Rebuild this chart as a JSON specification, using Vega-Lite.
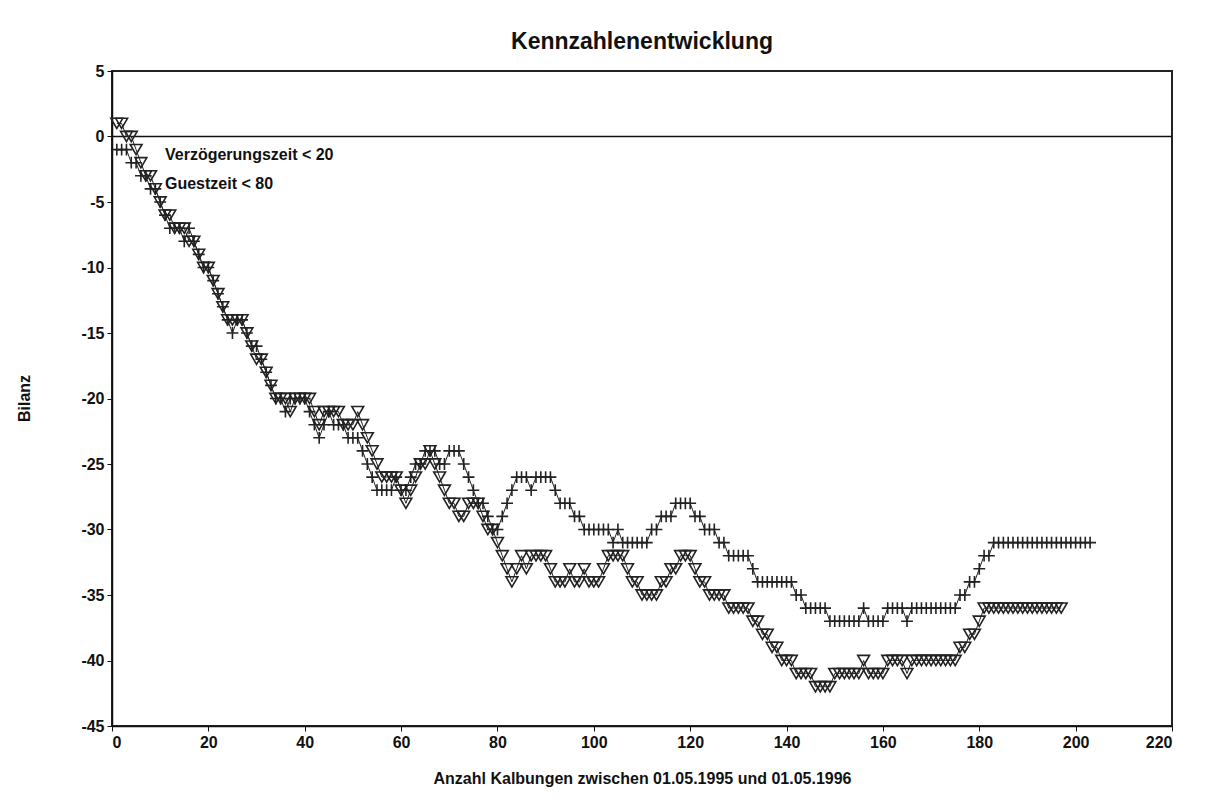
{
  "$schema": "https://vega.github.io/schema/vega-lite/v6.json",
  "width": 1060,
  "height": 655,
  "autosize": {"type": "none"},
  "padding": {"left": 112, "top": 71, "right": 44, "bottom": 80},
  "background": "white",
  "config": {
    "font": "Liberation Sans",
    "view": {"stroke": "#222", "strokeWidth": 2},
    "axis": {"grid": false, "domainColor": "#111", "tickColor": "#111", "labelColor": "#111", "titleColor": "#111", "labelFont": "Liberation Sans", "titleFont": "Liberation Sans", "labelFontWeight": "bold", "titleFontWeight": "bold", "labelFontSize": 16, "titleFontSize": 16, "tickSize": 5, "domainWidth": 1.5, "labelExpr": "replace(datum.label, '\u2212', '-')"}
  },
  "title": {"text": "Kennzahlenentwicklung", "fontSize": 23, "fontWeight": "bold", "font": "Liberation Sans", "color": "#111", "anchor": "middle", "offset": 9},
  "layer": [
    {
      "data": {"values": [{"z": 0}]},
      "mark": {"type": "rule", "color": "#111", "strokeWidth": 1.5},
      "encoding": {"y": {"field": "z", "type": "quantitative", "scale": {"domain": [-45, 5], "nice": false}, "axis": {"values": [-45, -40, -35, -30, -25, -20, -15, -10, -5, 0, 5], "title": "Bilanz", "titleX": -88, "titleY": 327, "titleAlign": "center", "titleBaseline": "middle", "labelPadding": 3}}}
    },
    {
      "data": {"name": "series", "values": [
{"s":"V","x":1,"y":-1},{"s":"V","x":2,"y":-1},{"s":"V","x":3,"y":-1},{"s":"V","x":4,"y":-2},{"s":"V","x":5,"y":-2},{"s":"V","x":6,"y":-3},{"s":"V","x":7,"y":-3},{"s":"V","x":8,"y":-4},{"s":"V","x":9,"y":-4},{"s":"V","x":10,"y":-5},
{"s":"V","x":11,"y":-6},{"s":"V","x":12,"y":-7},{"s":"V","x":13,"y":-7},{"s":"V","x":14,"y":-7},{"s":"V","x":15,"y":-8},{"s":"V","x":16,"y":-7},{"s":"V","x":17,"y":-8},{"s":"V","x":18,"y":-9},{"s":"V","x":19,"y":-10},{"s":"V","x":20,"y":-10},
{"s":"V","x":21,"y":-11},{"s":"V","x":22,"y":-12},{"s":"V","x":23,"y":-13},{"s":"V","x":24,"y":-14},{"s":"V","x":25,"y":-15},{"s":"V","x":26,"y":-14},{"s":"V","x":27,"y":-14},{"s":"V","x":28,"y":-15},{"s":"V","x":29,"y":-16},{"s":"V","x":30,"y":-16},
{"s":"V","x":31,"y":-17},{"s":"V","x":32,"y":-18},{"s":"V","x":33,"y":-19},{"s":"V","x":34,"y":-20},{"s":"V","x":35,"y":-20},{"s":"V","x":36,"y":-21},{"s":"V","x":37,"y":-20},{"s":"V","x":38,"y":-20},{"s":"V","x":39,"y":-20},{"s":"V","x":40,"y":-20},
{"s":"V","x":41,"y":-21},{"s":"V","x":42,"y":-22},{"s":"V","x":43,"y":-23},{"s":"V","x":44,"y":-22},{"s":"V","x":45,"y":-21},{"s":"V","x":46,"y":-22},{"s":"V","x":47,"y":-22},{"s":"V","x":48,"y":-22},{"s":"V","x":49,"y":-23},{"s":"V","x":50,"y":-23},
{"s":"V","x":51,"y":-23},{"s":"V","x":52,"y":-24},{"s":"V","x":53,"y":-25},{"s":"V","x":54,"y":-26},{"s":"V","x":55,"y":-27},{"s":"V","x":56,"y":-27},{"s":"V","x":57,"y":-27},{"s":"V","x":58,"y":-27},{"s":"V","x":59,"y":-26},{"s":"V","x":60,"y":-27},
{"s":"V","x":61,"y":-27},{"s":"V","x":62,"y":-26},{"s":"V","x":63,"y":-25},{"s":"V","x":64,"y":-25},{"s":"V","x":65,"y":-24},{"s":"V","x":66,"y":-24},{"s":"V","x":67,"y":-24},{"s":"V","x":68,"y":-25},{"s":"V","x":69,"y":-25},{"s":"V","x":70,"y":-24},
{"s":"V","x":71,"y":-24},{"s":"V","x":72,"y":-24},{"s":"V","x":73,"y":-25},{"s":"V","x":74,"y":-26},{"s":"V","x":75,"y":-27},{"s":"V","x":76,"y":-28},{"s":"V","x":77,"y":-28},{"s":"V","x":78,"y":-29},{"s":"V","x":79,"y":-30},{"s":"V","x":80,"y":-30},
{"s":"V","x":81,"y":-29},{"s":"V","x":82,"y":-28},{"s":"V","x":83,"y":-27},{"s":"V","x":84,"y":-26},{"s":"V","x":85,"y":-26},{"s":"V","x":86,"y":-26},{"s":"V","x":87,"y":-27},{"s":"V","x":88,"y":-26},{"s":"V","x":89,"y":-26},{"s":"V","x":90,"y":-26},
{"s":"V","x":91,"y":-26},{"s":"V","x":92,"y":-27},{"s":"V","x":93,"y":-28},{"s":"V","x":94,"y":-28},{"s":"V","x":95,"y":-28},{"s":"V","x":96,"y":-29},{"s":"V","x":97,"y":-29},{"s":"V","x":98,"y":-30},{"s":"V","x":99,"y":-30},{"s":"V","x":100,"y":-30},
{"s":"V","x":101,"y":-30},{"s":"V","x":102,"y":-30},{"s":"V","x":103,"y":-30},{"s":"V","x":104,"y":-31},{"s":"V","x":105,"y":-30},{"s":"V","x":106,"y":-31},{"s":"V","x":107,"y":-31},{"s":"V","x":108,"y":-31},{"s":"V","x":109,"y":-31},{"s":"V","x":110,"y":-31},
{"s":"V","x":111,"y":-31},{"s":"V","x":112,"y":-30},{"s":"V","x":113,"y":-30},{"s":"V","x":114,"y":-29},{"s":"V","x":115,"y":-29},{"s":"V","x":116,"y":-29},{"s":"V","x":117,"y":-28},{"s":"V","x":118,"y":-28},{"s":"V","x":119,"y":-28},{"s":"V","x":120,"y":-28},
{"s":"V","x":121,"y":-29},{"s":"V","x":122,"y":-29},{"s":"V","x":123,"y":-30},{"s":"V","x":124,"y":-30},{"s":"V","x":125,"y":-30},{"s":"V","x":126,"y":-31},{"s":"V","x":127,"y":-31},{"s":"V","x":128,"y":-32},{"s":"V","x":129,"y":-32},{"s":"V","x":130,"y":-32},
{"s":"V","x":131,"y":-32},{"s":"V","x":132,"y":-32},{"s":"V","x":133,"y":-33},{"s":"V","x":134,"y":-34},{"s":"V","x":135,"y":-34},{"s":"V","x":136,"y":-34},{"s":"V","x":137,"y":-34},{"s":"V","x":138,"y":-34},{"s":"V","x":139,"y":-34},{"s":"V","x":140,"y":-34},
{"s":"V","x":141,"y":-34},{"s":"V","x":142,"y":-35},{"s":"V","x":143,"y":-35},{"s":"V","x":144,"y":-36},{"s":"V","x":145,"y":-36},{"s":"V","x":146,"y":-36},{"s":"V","x":147,"y":-36},{"s":"V","x":148,"y":-36},{"s":"V","x":149,"y":-37},{"s":"V","x":150,"y":-37},
{"s":"V","x":151,"y":-37},{"s":"V","x":152,"y":-37},{"s":"V","x":153,"y":-37},{"s":"V","x":154,"y":-37},{"s":"V","x":155,"y":-37},{"s":"V","x":156,"y":-36},{"s":"V","x":157,"y":-37},{"s":"V","x":158,"y":-37},{"s":"V","x":159,"y":-37},{"s":"V","x":160,"y":-37},
{"s":"V","x":161,"y":-36},{"s":"V","x":162,"y":-36},{"s":"V","x":163,"y":-36},{"s":"V","x":164,"y":-36},{"s":"V","x":165,"y":-37},{"s":"V","x":166,"y":-36},{"s":"V","x":167,"y":-36},{"s":"V","x":168,"y":-36},{"s":"V","x":169,"y":-36},{"s":"V","x":170,"y":-36},
{"s":"V","x":171,"y":-36},{"s":"V","x":172,"y":-36},{"s":"V","x":173,"y":-36},{"s":"V","x":174,"y":-36},{"s":"V","x":175,"y":-36},{"s":"V","x":176,"y":-35},{"s":"V","x":177,"y":-35},{"s":"V","x":178,"y":-34},{"s":"V","x":179,"y":-34},{"s":"V","x":180,"y":-33},
{"s":"V","x":181,"y":-32},{"s":"V","x":182,"y":-32},{"s":"V","x":183,"y":-31},{"s":"V","x":184,"y":-31},{"s":"V","x":185,"y":-31},{"s":"V","x":186,"y":-31},{"s":"V","x":187,"y":-31},{"s":"V","x":188,"y":-31},{"s":"V","x":189,"y":-31},{"s":"V","x":190,"y":-31},
{"s":"V","x":191,"y":-31},{"s":"V","x":192,"y":-31},{"s":"V","x":193,"y":-31},{"s":"V","x":194,"y":-31},{"s":"V","x":195,"y":-31},{"s":"V","x":196,"y":-31},{"s":"V","x":197,"y":-31},{"s":"V","x":198,"y":-31},{"s":"V","x":199,"y":-31},{"s":"V","x":200,"y":-31},
{"s":"V","x":201,"y":-31},{"s":"V","x":202,"y":-31},{"s":"V","x":203,"y":-31},
{"s":"G","x":1,"y":1},{"s":"G","x":2,"y":1},{"s":"G","x":3,"y":0},{"s":"G","x":4,"y":0},{"s":"G","x":5,"y":-1},{"s":"G","x":6,"y":-2},{"s":"G","x":7,"y":-3},{"s":"G","x":8,"y":-3},{"s":"G","x":9,"y":-4},{"s":"G","x":10,"y":-5},
{"s":"G","x":11,"y":-6},{"s":"G","x":12,"y":-6},{"s":"G","x":13,"y":-7},{"s":"G","x":14,"y":-7},{"s":"G","x":15,"y":-7},{"s":"G","x":16,"y":-8},{"s":"G","x":17,"y":-8},{"s":"G","x":18,"y":-9},{"s":"G","x":19,"y":-10},{"s":"G","x":20,"y":-10},
{"s":"G","x":21,"y":-11},{"s":"G","x":22,"y":-12},{"s":"G","x":23,"y":-13},{"s":"G","x":24,"y":-14},{"s":"G","x":25,"y":-14},{"s":"G","x":26,"y":-14},{"s":"G","x":27,"y":-14},{"s":"G","x":28,"y":-15},{"s":"G","x":29,"y":-16},{"s":"G","x":30,"y":-17},
{"s":"G","x":31,"y":-17},{"s":"G","x":32,"y":-18},{"s":"G","x":33,"y":-19},{"s":"G","x":34,"y":-20},{"s":"G","x":35,"y":-20},{"s":"G","x":36,"y":-20},{"s":"G","x":37,"y":-21},{"s":"G","x":38,"y":-20},{"s":"G","x":39,"y":-20},{"s":"G","x":40,"y":-20},
{"s":"G","x":41,"y":-20},{"s":"G","x":42,"y":-21},{"s":"G","x":43,"y":-22},{"s":"G","x":44,"y":-21},{"s":"G","x":45,"y":-21},{"s":"G","x":46,"y":-21},{"s":"G","x":47,"y":-21},{"s":"G","x":48,"y":-22},{"s":"G","x":49,"y":-22},{"s":"G","x":50,"y":-22},
{"s":"G","x":51,"y":-21},{"s":"G","x":52,"y":-22},{"s":"G","x":53,"y":-23},{"s":"G","x":54,"y":-24},{"s":"G","x":55,"y":-25},{"s":"G","x":56,"y":-26},{"s":"G","x":57,"y":-26},{"s":"G","x":58,"y":-26},{"s":"G","x":59,"y":-26},{"s":"G","x":60,"y":-27},
{"s":"G","x":61,"y":-28},{"s":"G","x":62,"y":-27},{"s":"G","x":63,"y":-26},{"s":"G","x":64,"y":-25},{"s":"G","x":65,"y":-25},{"s":"G","x":66,"y":-24},{"s":"G","x":67,"y":-25},{"s":"G","x":68,"y":-26},{"s":"G","x":69,"y":-27},{"s":"G","x":70,"y":-28},
{"s":"G","x":71,"y":-28},{"s":"G","x":72,"y":-29},{"s":"G","x":73,"y":-29},{"s":"G","x":74,"y":-28},{"s":"G","x":75,"y":-28},{"s":"G","x":76,"y":-28},{"s":"G","x":77,"y":-29},{"s":"G","x":78,"y":-30},{"s":"G","x":79,"y":-30},{"s":"G","x":80,"y":-31},
{"s":"G","x":81,"y":-32},{"s":"G","x":82,"y":-33},{"s":"G","x":83,"y":-34},{"s":"G","x":84,"y":-33},{"s":"G","x":85,"y":-32},{"s":"G","x":86,"y":-33},{"s":"G","x":87,"y":-32},{"s":"G","x":88,"y":-32},{"s":"G","x":89,"y":-32},{"s":"G","x":90,"y":-32},
{"s":"G","x":91,"y":-33},{"s":"G","x":92,"y":-34},{"s":"G","x":93,"y":-34},{"s":"G","x":94,"y":-34},{"s":"G","x":95,"y":-33},{"s":"G","x":96,"y":-34},{"s":"G","x":97,"y":-34},{"s":"G","x":98,"y":-33},{"s":"G","x":99,"y":-34},{"s":"G","x":100,"y":-34},
{"s":"G","x":101,"y":-34},{"s":"G","x":102,"y":-33},{"s":"G","x":103,"y":-32},{"s":"G","x":104,"y":-32},{"s":"G","x":105,"y":-32},{"s":"G","x":106,"y":-32},{"s":"G","x":107,"y":-33},{"s":"G","x":108,"y":-34},{"s":"G","x":109,"y":-34},{"s":"G","x":110,"y":-35},
{"s":"G","x":111,"y":-35},{"s":"G","x":112,"y":-35},{"s":"G","x":113,"y":-35},{"s":"G","x":114,"y":-34},{"s":"G","x":115,"y":-34},{"s":"G","x":116,"y":-33},{"s":"G","x":117,"y":-33},{"s":"G","x":118,"y":-32},{"s":"G","x":119,"y":-32},{"s":"G","x":120,"y":-32},
{"s":"G","x":121,"y":-33},{"s":"G","x":122,"y":-34},{"s":"G","x":123,"y":-34},{"s":"G","x":124,"y":-35},{"s":"G","x":125,"y":-35},{"s":"G","x":126,"y":-35},{"s":"G","x":127,"y":-35},{"s":"G","x":128,"y":-36},{"s":"G","x":129,"y":-36},{"s":"G","x":130,"y":-36},
{"s":"G","x":131,"y":-36},{"s":"G","x":132,"y":-36},{"s":"G","x":133,"y":-37},{"s":"G","x":134,"y":-37},{"s":"G","x":135,"y":-38},{"s":"G","x":136,"y":-38},{"s":"G","x":137,"y":-39},{"s":"G","x":138,"y":-39},{"s":"G","x":139,"y":-40},{"s":"G","x":140,"y":-40},
{"s":"G","x":141,"y":-40},{"s":"G","x":142,"y":-41},{"s":"G","x":143,"y":-41},{"s":"G","x":144,"y":-41},{"s":"G","x":145,"y":-41},{"s":"G","x":146,"y":-42},{"s":"G","x":147,"y":-42},{"s":"G","x":148,"y":-42},{"s":"G","x":149,"y":-42},{"s":"G","x":150,"y":-41},
{"s":"G","x":151,"y":-41},{"s":"G","x":152,"y":-41},{"s":"G","x":153,"y":-41},{"s":"G","x":154,"y":-41},{"s":"G","x":155,"y":-41},{"s":"G","x":156,"y":-40},{"s":"G","x":157,"y":-41},{"s":"G","x":158,"y":-41},{"s":"G","x":159,"y":-41},{"s":"G","x":160,"y":-41},
{"s":"G","x":161,"y":-40},{"s":"G","x":162,"y":-40},{"s":"G","x":163,"y":-40},{"s":"G","x":164,"y":-40},{"s":"G","x":165,"y":-41},{"s":"G","x":166,"y":-40},{"s":"G","x":167,"y":-40},{"s":"G","x":168,"y":-40},{"s":"G","x":169,"y":-40},{"s":"G","x":170,"y":-40},
{"s":"G","x":171,"y":-40},{"s":"G","x":172,"y":-40},{"s":"G","x":173,"y":-40},{"s":"G","x":174,"y":-40},{"s":"G","x":175,"y":-40},{"s":"G","x":176,"y":-39},{"s":"G","x":177,"y":-39},{"s":"G","x":178,"y":-38},{"s":"G","x":179,"y":-38},{"s":"G","x":180,"y":-37},
{"s":"G","x":181,"y":-36},{"s":"G","x":182,"y":-36},{"s":"G","x":183,"y":-36},{"s":"G","x":184,"y":-36},{"s":"G","x":185,"y":-36},{"s":"G","x":186,"y":-36},{"s":"G","x":187,"y":-36},{"s":"G","x":188,"y":-36},{"s":"G","x":189,"y":-36},{"s":"G","x":190,"y":-36},
{"s":"G","x":191,"y":-36},{"s":"G","x":192,"y":-36},{"s":"G","x":193,"y":-36},{"s":"G","x":194,"y":-36},{"s":"G","x":195,"y":-36},{"s":"G","x":196,"y":-36},{"s":"G","x":197,"y":-36}
      ]},
      "layer": [
        {
          "mark": {"type": "line", "color": "#222", "strokeWidth": 1},
          "encoding": {
            "x": {"field": "x", "type": "quantitative", "scale": {"domain": [0, 220], "nice": false}, "axis": {"values": [0, 20, 40, 60, 80, 100, 120, 140, 160, 180, 200, 220], "title": "Anzahl Kalbungen zwischen 01.05.1995 und 01.05.1996", "labelPadding": 3, "titlePadding": 20}},
            "y": {"field": "y", "type": "quantitative", "scale": {"domain": [-45, 5], "nice": false}, "axis": {"values": [-45, -40, -35, -30, -25, -20, -15, -10, -5, 0, 5], "title": "Bilanz", "titleX": -88, "titleY": 327, "titleAlign": "center", "titleBaseline": "middle", "labelPadding": 3}},
            "detail": {"field": "s"}
          }
        },
        {
          "mark": {"type": "point", "filled": false, "stroke": "#222", "strokeWidth": 1.6, "opacity": 1, "size": 140},
          "encoding": {
            "x": {"field": "x", "type": "quantitative"},
            "y": {"field": "y", "type": "quantitative"},
            "shape": {"field": "s", "type": "nominal", "scale": {"domain": ["V", "G"], "range": ["M-1,0H1M0,-1V1", "triangle-down"]}, "legend": null}
          }
        }
      ]
    },
    {
      "data": {"values": [
        {"label": "Verzögerungszeit < 20", "x": 11, "y": -1.45},
        {"label": "Guestzeit < 80", "x": 11, "y": -3.6}
      ]},
      "mark": {"type": "text", "align": "left", "baseline": "middle", "fontSize": 16, "fontWeight": "bold", "font": "Liberation Sans", "color": "#111"},
      "encoding": {
        "x": {"field": "x", "type": "quantitative"},
        "y": {"field": "y", "type": "quantitative"},
        "text": {"field": "label"}
      }
    }
  ]
}
